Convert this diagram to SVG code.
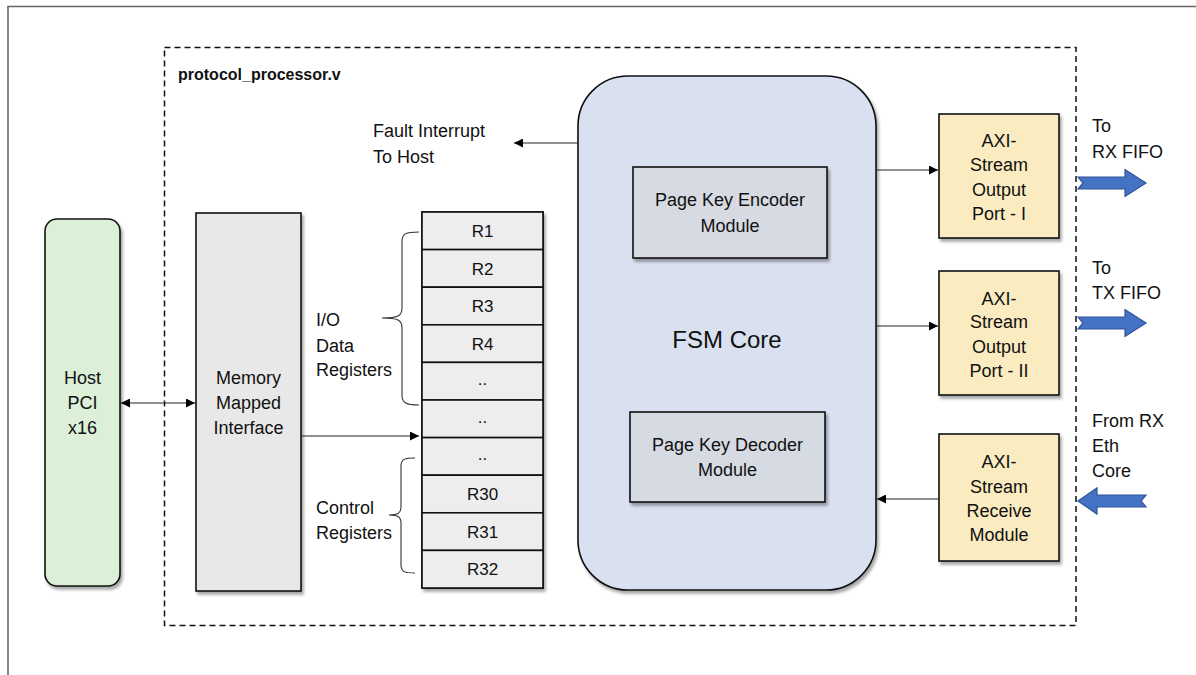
<svg xmlns="http://www.w3.org/2000/svg" width="1196" height="675" viewBox="0 0 1196 675">
  <defs>
    <filter id="shadow" x="-10%" y="-10%" width="130%" height="130%">
      <feDropShadow dx="2" dy="3" stdDeviation="1.8" flood-color="#000" flood-opacity="0.35"/>
    </filter>
    <marker id="arrow" viewBox="0 0 10 10" refX="10" refY="5" markerWidth="9" markerHeight="9" markerUnits="userSpaceOnUse" orient="auto-start-reverse">
      <path d="M0,0 L10,5 L0,10 z" fill="#000"/>
    </marker>
    <style>
      text { font-family: "Liberation Sans", Arial, sans-serif; fill: #111; }
      .lbl { font-size: 18px; }
      .ctr { font-size: 18px; text-anchor: middle; }
      .reg { font-size: 17px; text-anchor: middle; }
      .box { stroke: #111; stroke-width: 1.6; filter: url(#shadow); }
      .wire { stroke: #222; stroke-width: 1.1; fill: none; }
      .brace { stroke: #333; stroke-width: 1.1; fill: none; }
      .big { fill: #4472C4; stroke: #2F5597; stroke-width: 1.2; }
    </style>
  </defs>

  <rect width="1196" height="675" fill="#fff"/>
  <!-- page frame -->
  <path d="M8,675 V6.5 H1196" fill="none" stroke="#666" stroke-width="1.6"/>

  <!-- module boundary -->
  <g id="boundary">
    <rect x="164.5" y="47.5" width="911.5" height="578" fill="none" stroke="#111" stroke-width="1.5" stroke-dasharray="6,4"/>
    <text x="178" y="80" style="font-size:16px;font-weight:bold">protocol_processor.v</text>
  </g>

  <g id="host-pci">
    <rect class="box" x="45" y="219" width="75" height="367" rx="12" fill="#DCEFD7"/>
    <text class="ctr" x="82.5" y="384">Host</text>
    <text class="ctr" x="82.5" y="409">PCI</text>
    <text class="ctr" x="82.5" y="434">x16</text>
  </g>

  <g id="memory-mapped-interface">
    <rect class="box" x="196" y="213" width="105" height="378" fill="#E8E8E8"/>
    <text class="ctr" x="248.5" y="384">Memory</text>
    <text class="ctr" x="248.5" y="409">Mapped</text>
    <text class="ctr" x="248.5" y="434">Interface</text>
  </g>

  <g id="register-file">
    <rect class="box" x="422" y="212" width="121" height="376" fill="#EDEDED"/>
    <g fill="#EDEDED" stroke="#111" stroke-width="1.6">
      <rect x="422" y="212" width="121" height="37.6"/>
      <rect x="422" y="249.6" width="121" height="37.6"/>
      <rect x="422" y="287.2" width="121" height="37.6"/>
      <rect x="422" y="324.8" width="121" height="37.6"/>
      <rect x="422" y="362.4" width="121" height="37.6"/>
      <rect x="422" y="400" width="121" height="37.6"/>
      <rect x="422" y="437.6" width="121" height="37.6"/>
      <rect x="422" y="475.2" width="121" height="37.6"/>
      <rect x="422" y="512.8" width="121" height="37.6"/>
      <rect x="422" y="550.4" width="121" height="37.6"/>
    </g>
    <text class="reg" x="482.5" y="237">R1</text>
    <text class="reg" x="482.5" y="274.6">R2</text>
    <text class="reg" x="482.5" y="312.2">R3</text>
    <text class="reg" x="482.5" y="349.8">R4</text>
    <text class="reg" x="482.5" y="385">..</text>
    <text class="reg" x="482.5" y="422.6">..</text>
    <text class="reg" x="482.5" y="460.2">..</text>
    <text class="reg" x="482.5" y="500.2">R30</text>
    <text class="reg" x="482.5" y="537.8">R31</text>
    <text class="reg" x="482.5" y="575.4">R32</text>
  </g>

  <g id="io-data-registers">
    <path class="brace" d="M419,232 C406,232 402,233 402,242 V308 C402,316 398,318 382,318 C398,318 402,320 402,328 V395 C402,403 406,405 419,405"/>
    <text class="lbl" x="316" y="326">I/O</text>
    <text class="lbl" x="316" y="352">Data</text>
    <text class="lbl" x="316" y="376">Registers</text>
  </g>

  <g id="control-registers">
    <path class="brace" d="M415,458 C405,458 401,459 401,466 V507 C401,513 398,515 389,515 C398,515 401,517 401,523 V565 C401,572 405,573 415,573"/>
    <text class="lbl" x="316" y="514">Control</text>
    <text class="lbl" x="316" y="539">Registers</text>
  </g>

  <g id="fault-interrupt">
    <text class="lbl" x="373" y="137">Fault Interrupt</text>
    <text class="lbl" x="373" y="163">To Host</text>
  </g>

  <g id="fsm-core">
    <rect class="box" x="578" y="76" width="298" height="514" rx="50" fill="#D9E0F0"/>
    <text x="727" y="348" style="font-size:24px;text-anchor:middle">FSM Core</text>
  </g>

  <g id="page-key-encoder">
    <rect class="box" x="633" y="167" width="194" height="91" fill="#D6DAE2"/>
    <text class="ctr" x="730" y="206">Page Key Encoder</text>
    <text class="ctr" x="730" y="232">Module</text>
  </g>

  <g id="page-key-decoder">
    <rect class="box" x="630" y="412" width="195" height="90" fill="#D6DAE2"/>
    <text class="ctr" x="727.5" y="451">Page Key Decoder</text>
    <text class="ctr" x="727.5" y="476">Module</text>
  </g>

  <g id="axi-output-port-1">
    <rect class="box" x="939" y="114" width="120" height="124" fill="#FAEBC0"/>
    <text class="ctr" x="999" y="147">AXI-</text>
    <text class="ctr" x="999" y="171">Stream</text>
    <text class="ctr" x="999" y="196">Output</text>
    <text class="ctr" x="999" y="220">Port - I</text>
  </g>

  <g id="axi-output-port-2">
    <rect class="box" x="939" y="271" width="120" height="124" fill="#FAEBC0"/>
    <text class="ctr" x="999" y="305">AXI-</text>
    <text class="ctr" x="999" y="328">Stream</text>
    <text class="ctr" x="999" y="353">Output</text>
    <text class="ctr" x="999" y="377">Port - II</text>
  </g>

  <g id="axi-receive-module">
    <rect class="box" x="939" y="434" width="120" height="127" fill="#FAEBC0"/>
    <text class="ctr" x="999" y="468">AXI-</text>
    <text class="ctr" x="999" y="493">Stream</text>
    <text class="ctr" x="999" y="517">Receive</text>
    <text class="ctr" x="999" y="541">Module</text>
  </g>

  <g id="external-ports">
    <path class="big" d="M1078,177 H1125 V169.5 L1146,183 L1125,196.5 V189 H1078 L1083,183 Z"/>
    <text class="lbl" x="1092" y="132">To</text>
    <text class="lbl" x="1092" y="158">RX FIFO</text>
    <path class="big" d="M1078,317 H1125 V309.5 L1146,323 L1125,336.5 V329 H1078 L1083,323 Z"/>
    <text class="lbl" x="1092" y="274">To</text>
    <text class="lbl" x="1092" y="299">TX FIFO</text>
    <path class="big" d="M1078,501 L1097,488 V495 H1146 L1141,501 L1146,507 H1097 V514 Z"/>
    <text class="lbl" x="1092" y="427">From RX</text>
    <text class="lbl" x="1092" y="452">Eth</text>
    <text class="lbl" x="1092" y="477">Core</text>
  </g>

  <g id="connectors">
    <line class="wire" x1="121" y1="403" x2="195" y2="403" marker-start="url(#arrow)" marker-end="url(#arrow)"/>
    <line class="wire" x1="301" y1="436" x2="419" y2="436" marker-end="url(#arrow)"/>
    <line class="wire" x1="578" y1="143" x2="514" y2="143" marker-end="url(#arrow)"/>
    <line class="wire" x1="876" y1="170" x2="938" y2="170" marker-end="url(#arrow)"/>
    <line class="wire" x1="876" y1="326" x2="938" y2="326" marker-end="url(#arrow)"/>
    <line class="wire" x1="939" y1="499" x2="877" y2="499" marker-end="url(#arrow)"/>
  </g>
</svg>
